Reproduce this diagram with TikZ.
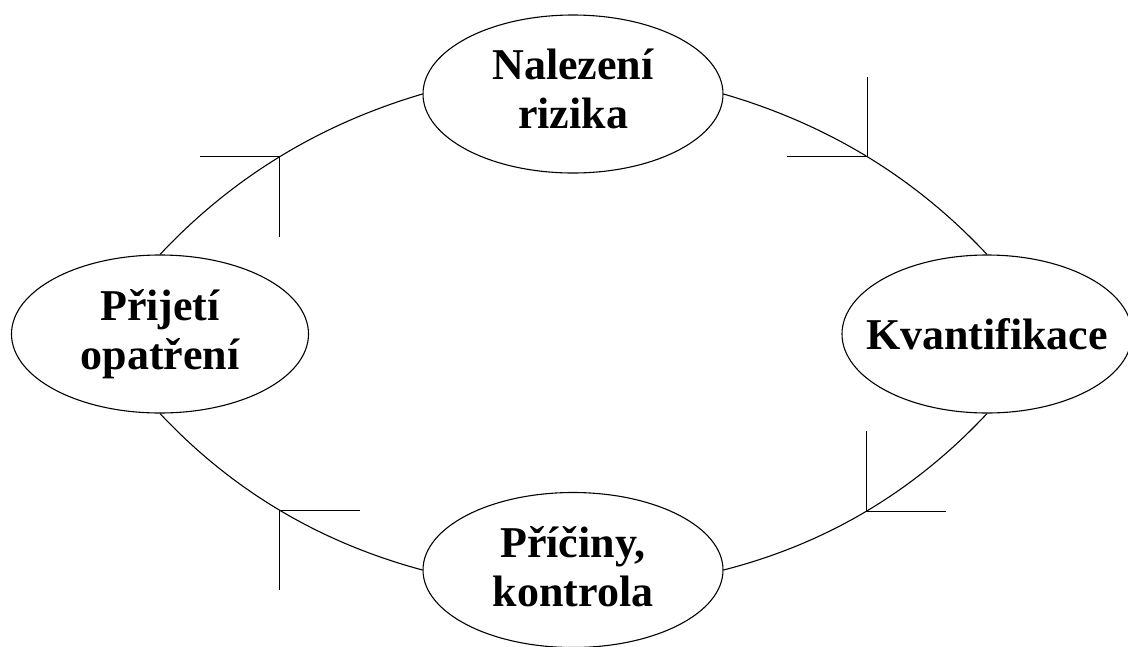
\documentclass[tikz,border=0pt]{standalone}
\usepackage{fontspec}
\setmainfont{Liberation Serif}
\usetikzlibrary{shapes.geometric}
\begin{document}
\begin{tikzpicture}[x=1pt,y=-1pt,
  phase/.style={ellipse, draw=black, line width=1.1pt, inner sep=0pt,
    minimum width=300pt, minimum height=158pt, align=center,
    font=\fontsize{44}{49}\selectfont\bfseries},
  link/.style={draw=black, line width=1.1pt},
  barb/.style={draw=black, line width=1.4pt}]
  \useasboundingbox (0,0) rectangle (1128,646);
  \clip (0,0) rectangle (1128,646);

  % the four phases of the cycle
  \node[phase, text depth=10pt] (top) at (573,94) {Nalezení\\rizika};
  \node[phase, minimum width=290pt, inner xsep=-20pt] (right) at (987,334) {Kvantifikace};
  \node[phase, minimum height=155pt, text depth=8pt] (bottom) at (573,570) {Příčiny,\\kontrola};
  \node[phase, minimum width=297pt] (left) at (160,334) {Přijetí\\opatření};

  % curved links running clockwise, with a midpoint kept for the barbs
  \draw[link] (top.east) .. controls +(104,30.3) and +(-72,-77) .. (right.north)
    coordinate[pos=0.5] (m1);
  \draw[link] (right.south) .. controls +(-73.3,78.3) and +(102.7,-26.3) .. (bottom.east)
    coordinate[pos=0.5] (m2);
  \draw[link] (bottom.west) .. controls +(-103,-27.7) and +(72.3,77) .. (left.south)
    coordinate[pos=0.5] (m3);
  \draw[link] (left.north) .. controls +(72.3,-77) and +(-103,30.3) .. (top.west)
    coordinate[pos=0.5] (m4);

  % right-angled barbs marking the direction
  \draw[barb] (m1) -- ++(-80,0);
  \draw[barb] (m1) -- ++(0,-80);
  \draw[barb] (m2) -- ++(80,0);
  \draw[barb] (m2) -- ++(0,-80);
  \draw[barb] (m3) -- ++(80,0);
  \draw[barb] (m3) -- ++(0,80);
  \draw[barb] (m4) -- ++(-80,0);
  \draw[barb] (m4) -- ++(0,80);
\end{tikzpicture}
\end{document}
